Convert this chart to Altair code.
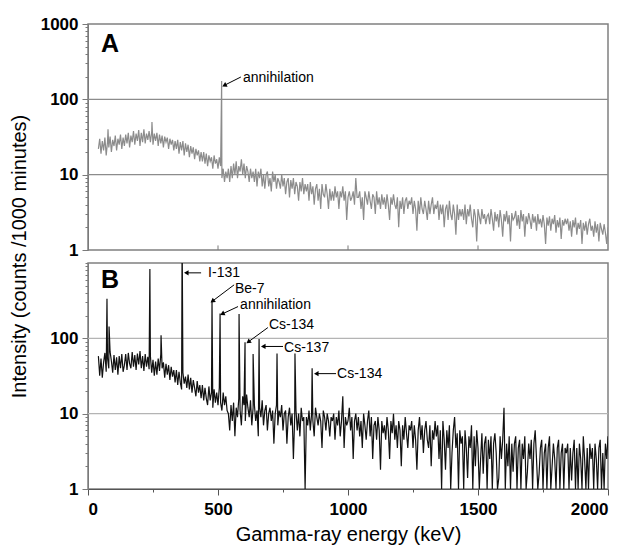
import altair as alt
import pandas as pd

# ---------------- data ----------------
E_START = 40      # keV of first sample
E_STEP = 5        # keV between samples

# Panel A (grey spectrum), counts /1000 min, every 5 keV from 40 keV
a_counts = [
    22, 30, 19, 28, 21, 31, 18, 27, 23, 32, 20, 29, 24, 33, 21, 30, 25, 34, 22, 31,
    24, 34, 26, 36, 23, 33, 27, 38, 25, 35, 28, 39, 24, 36, 27, 40, 26, 35, 29, 38,
    27, 37, 25, 35, 28, 36, 24, 34, 26, 33, 23, 32, 27, 31, 22, 30, 25, 29, 21, 28,
    22, 29, 19, 27, 21, 28, 18, 26, 20, 25, 17, 24, 19, 23, 16, 22, 18, 21, 15, 20,
    15, 20, 14, 19, 13, 18, 15, 17, 12, 18, 14, 16, 12, 17, 13, 9, 12, 8, 11, 9,
    12, 8, 13, 9, 14, 10, 15, 9, 13, 11, 16, 10, 14, 9, 13, 11, 8, 12, 9, 11,
    8, 12, 7, 11, 9, 12, 7, 10, 6.5, 10, 11, 7, 9, 6, 11, 8, 10, 6.5, 9, 8,
    6.5, 10, 7, 9, 5.5, 8, 9, 5, 8.5, 6.5, 9, 5.5, 8, 7, 4.5, 8, 6, 9, 5.5, 7.5,
    6, 7.5, 4.5, 8, 5.5, 7, 4, 6.5, 7.5, 4.5, 6.5, 3.5, 7.5, 5.5, 5, 7.5, 5.5, 3.5, 6.5, 4.5,
    6, 4.5, 7, 5, 6, 3.5, 6, 5, 7, 4.5, 6, 2.5, 5, 6, 4.5, 5, 6, 4, 9, 5,
    5, 6, 3.5, 5, 2.5, 6, 5, 4, 6, 4.5, 3.5, 5.5, 5, 3, 6, 4, 5, 3.5, 5.5, 4,
    5, 3.5, 5.5, 4, 2.5, 5, 4, 5.5, 4, 3.5, 5, 2, 4.5, 3.5, 5, 3, 4.5, 5, 3.5, 4.5,
    4, 5, 3, 4.5, 3.5, 1.8, 4.5, 3, 5, 3.5, 3, 4.5, 3.5, 2.5, 4.5, 3, 4, 5, 3, 4,
    3.5, 4.5, 2.5, 4, 3, 4, 2, 3.5, 4, 2.5, 4.5, 3, 2.5, 4, 3, 1.6, 4, 2.5, 3.5, 2.8,
    3.5, 2.5, 4, 2.2, 3.5, 2.8, 4, 2.6, 2, 3.5, 2.8, 1.3, 3.5, 2.8, 2.2, 3.5, 2.6, 3, 2.2, 2.8,
    3, 2.2, 3.5, 2.6, 1.8, 3.2, 2.4, 3, 2, 3.4, 2.5, 1.5, 3, 2.4, 3.3, 2.2, 2.9, 1.3, 3.1, 2.5,
    2.7, 3.3, 2.1, 2.9, 1.9, 3.4, 2.4, 3, 1.5, 2.8, 2.2, 3.1, 2.5, 1.9, 3, 2.3, 2.8, 1.8, 3, 2.2,
    2.6, 2, 2.9, 2.2, 1.2, 2.7, 2.1, 2.8, 1.8, 2.6, 2.2, 2.9, 1.7, 2.5, 2, 2.7, 1.4, 2.5, 2.1, 2.6,
    2.2, 2.6, 1.8, 2.4, 1.5, 2.5, 2, 2.7, 1.6, 2.3, 1.9, 2.5, 1.2, 2.3, 1.8, 2.4, 1.6, 2.2, 2.6, 1.8,
    2.1, 1.5, 2.4, 1.7, 2.2, 1.3, 2.3, 1.9, 1.6, 2.2, 1.7, 1.2, 2,
]
a_peak_e = [77, 246, 514]
a_peak_v = [40, 50, 175]

# Panel B (black spectrum)
b_counts = [
    58, 32, 54, 30, 48, 64, 36, 55, 40, 66, 50, 35, 60, 38, 56, 33, 58, 40, 62, 36,
    44, 62, 38, 64, 46, 40, 66, 42, 60, 38, 63, 45, 68, 40, 58, 37, 62, 42, 57, 39,
    58, 35, 52, 32, 49, 33, 54, 37, 62, 40, 48, 30, 46, 33, 44, 28, 42, 31, 38, 26,
    38, 24, 36, 26, 21, 35, 25, 31, 22, 33, 21, 30, 19, 28, 22, 17, 27, 19, 24, 16,
    24, 15, 22, 16, 13, 23, 15, 19, 12, 21, 14, 19, 13, 22, 14, 11, 19, 13, 17, 11,
    10, 6, 13, 8, 14, 5, 12, 9, 16, 11, 7, 17, 13, 8, 18, 12, 9, 15, 7, 12,
    13, 8, 11, 5, 12, 9, 15, 7, 11, 13, 6, 10, 12, 8, 11, 4, 10, 13, 7, 11,
    9, 13, 6, 10, 11, 4, 9, 12, 7, 10, 2.5, 9, 11, 6, 10, 5, 12, 8, 9, 1,
    9, 7, 11, 6, 10, 8, 5, 12, 9, 7, 10, 8, 3.5, 11, 9, 6, 10, 8, 5, 9,
    8, 10, 4.5, 9, 7, 11, 5, 8, 17, 3.5, 9, 7, 8, 12, 6, 9, 2.5, 8, 10, 6,
    9, 5, 8, 3.5, 10, 7, 4.5, 8, 11, 5, 9, 2.5, 7, 8, 4.5, 9, 6, 1.8, 8, 5.5,
    7, 4.5, 9, 6, 2.5, 8, 5.5, 10, 4.5, 7, 3.5, 8, 6, 2, 7, 4.5, 9, 5.5, 3.5, 7,
    6, 8, 3.5, 7, 4.5, 1.8, 6, 9, 4.5, 7, 3, 6, 8, 4.5, 3.5, 7, 2, 6, 4.5, 8,
    5, 7, 2.5, 6, 1, 8, 4.5, 1.8, 6, 3.5, 7, 1, 3, 6, 9, 3.5, 5.5, 1, 6, 4,
    5, 1, 6, 3.5, 1.4, 5, 3.5, 7, 1, 5, 2, 6, 3.5, 1, 2.5, 5.5, 1.6, 4, 5, 1,
    4.5, 2.5, 5, 1, 4, 5.5, 3, 1, 1.4, 5, 2.5, 4.5, 12, 1, 4, 2, 5, 1, 4, 1.7,
    4, 5, 1, 3.5, 4.5, 1, 4, 2.5, 5, 1, 1.7, 4, 2.5, 4.5, 1, 4, 6, 2.5, 1, 1.6,
    3.5, 4.5, 1, 3, 4, 1, 3.5, 5, 1, 2, 4, 2.5, 1, 3.5, 4.5, 1, 3, 4, 1, 3.5,
    3, 4, 1, 3.5, 1.3, 3, 4.5, 1, 3.5, 1, 4, 2.5, 1, 5, 2.5, 1, 3.5, 1, 4, 2.5,
    3.5, 1, 4, 2.5, 1, 3.5, 4.5, 1, 3, 1, 4, 2.5, 5,
]
b_peak_e = [73, 81, 238, 281, 362, 477, 508, 581, 604, 635, 658, 727, 796, 862]
b_peak_v = [335, 144, 830, 110, 2500, 316, 213, 210, 89, 62, 98, 63, 63, 40]

# axis / gridline values
x_minor_vals = [0, 250, 500, 750, 1000, 1250, 1500, 1750, 2000]
a_inner_ticks = [500, 1000, 1500]
grid_vals = [10, 100]
y_tick_vals = [1, 2, 3, 4, 5, 6, 7, 8, 9,
               10, 20, 30, 40, 50, 60, 70, 80, 90,
               100, 200, 300, 400, 500, 600, 700, 800, 900, 1000]

# annotations
a_labels = ["annihilation"]
a_label_x = [596]
a_label_y = [192]
a_arrow = [(588, 198, 527, 155, 243)]

b_labels = ["I-131", "Be-7", "annihilation", "Cs-134", "Cs-137", "Cs-134"]
b_label_x = [462, 565, 585, 696, 754, 958]
b_label_y = [740, 455, 280, 152, 74, 34]
b_arrow = [
    (435, 740, 381, 740, 270),
    (562, 513, 481, 316, 233),
    (577, 264, 519, 213, 245),
    (692, 139, 619, 91, 234),
    (750, 78, 677, 78, 270),
    (954, 34, 881, 34, 270),
]

FONT = "Liberation Sans"
W, H = 520, 226


def spectrum_df(counts, pe, pv):
    base = pd.DataFrame({"e": [E_START + E_STEP * i for i in range(len(counts))],
                         "v": counts})
    peaks = pd.DataFrame({"e": pe, "v": pv})
    return pd.concat([base, peaks]).sort_values("e", kind="stable").reset_index(drop=True)


def y_axis(labels_shown, title=None, **extra):
    test = " || ".join(f"datum.value == {v}" for v in labels_shown)
    return alt.Axis(
        values=y_tick_vals,
        format="d",
        labelExpr=f"({test}) ? datum.label : ''",
        labelOverlap=False,
        labelFont=FONT, labelFontSize=17, labelFontWeight="bold", labelColor="black",
        labelPadding=4,
        tickSize={"condition": {"test": test, "value": 6}, "value": 3},
        tickColor="#7a7a7a",
        domainColor="#7a7a7a",
        grid=False,
        title=title,
        **extra,
    )


def panel(counts, pe, pv, color, grid_color, labels_shown, letter, letter_y,
          lab, lab_x, lab_y, arrows, x_axis, y_title=None, y_extra=None, inner=False):
    yscale = alt.Scale(type="log", domain=[1, 1000])
    xscale = alt.Scale(domain=[0, 2000], nice=False)
    yax = y_axis(labels_shown, y_title, **(y_extra or {}))

    def Y(f):
        return alt.Y(f, type="quantitative", scale=yscale, axis=yax)

    def X(f):
        return alt.X(f, type="quantitative", scale=xscale, axis=x_axis)

    grid = alt.Chart(pd.DataFrame({"g": grid_vals})).mark_rule(
        color=grid_color, strokeWidth=1.3).encode(y=Y("g"))

    line = alt.Chart(spectrum_df(counts, pe, pv)).mark_line(
        color=color, strokeWidth=1.2, clip=True).encode(x=X("e"), y=Y("v"))

    adf = pd.DataFrame(arrows, columns=["x1", "y1", "x2", "y2", "ang"])
    arrow_lines = alt.Chart(adf).mark_rule(color="black", strokeWidth=1).encode(
        x=X("x1"), y=Y("y1"), x2="x2", y2="y2")
    heads = alt.Chart(adf).mark_point(shape="triangle", filled=True, size=28,
                                      color="black", opacity=1).encode(
        x=X("x2"), y=Y("y2"), angle=alt.Angle("ang:Q", scale=None))

    texts = alt.Chart(pd.DataFrame({"t": lab, "x": lab_x, "y": lab_y})).mark_text(
        align="left", baseline="middle", font=FONT, fontSize=14, color="black").encode(
        x=X("x"), y=Y("y"), text="t:N")

    let = alt.Chart(pd.DataFrame({"t": [letter], "x": [50], "y": [letter_y]})).mark_text(
        align="left", baseline="middle", font=FONT, fontSize=25, fontWeight="bold",
        color="black").encode(x=X("x"), y=Y("y"), text="t:N")

    layers = [grid, line, arrow_lines, heads, texts, let]
    if inner:
        tdf = pd.DataFrame({"x": a_inner_ticks, "y1": [1] * 3, "y2": [1.15] * 3})
        layers.append(alt.Chart(tdf).mark_rule(color="#7a7a7a", strokeWidth=1).encode(
            x=X("x"), y=Y("y1"), y2="y2"))
    return alt.layer(*layers).properties(width=W, height=H)


x_axis_b = alt.Axis(
    values=x_minor_vals,
    labelExpr="indexof([0,500,1000,1500,2000], datum.value) >= 0 ? datum.label : ''",
    format="d", labelOverlap=False,
    labelFont=FONT, labelFontSize=17, labelFontWeight="bold", labelColor="black",
    labelPadding=6,
    tickSize={"condition": {"test": "datum.value % 500 == 0", "value": 6}, "value": 3},
    tickColor="#555555", domainColor="#555555",
    grid=False,
    title="Gamma-ray energy (keV)",
    titleFont=FONT, titleFontSize=20, titleFontWeight="normal", titleColor="black",
    titlePadding=7,
)

pA = panel(a_counts, a_peak_e, a_peak_v, "#8c8c8c", "#8c8c8c", [1, 10, 100, 1000],
           "A", 545, a_labels, a_label_x, a_label_y, a_arrow, None, inner=True)

pB = panel(b_counts, b_peak_e, b_peak_v, "#111111", "#b4b4b4", [1, 10, 100],
           "B", 600, b_labels, b_label_x, b_label_y, b_arrow, x_axis_b,
           y_title="Intensity (counts /1000 minutes)",
           y_extra=dict(titleFont=FONT, titleFontSize=20, titleFontWeight="normal",
                        titleColor="black", titleX=-59, titleY=-7))

chart = alt.vconcat(pA, pB, spacing=13, bounds="flush").properties(
    padding={"left": 8, "top": 14, "right": 5, "bottom": 5}
).configure_view(stroke="#808080", strokeWidth=1.5)

chart.save("out.html", embed_options={"renderer": "svg", "actions": False})
